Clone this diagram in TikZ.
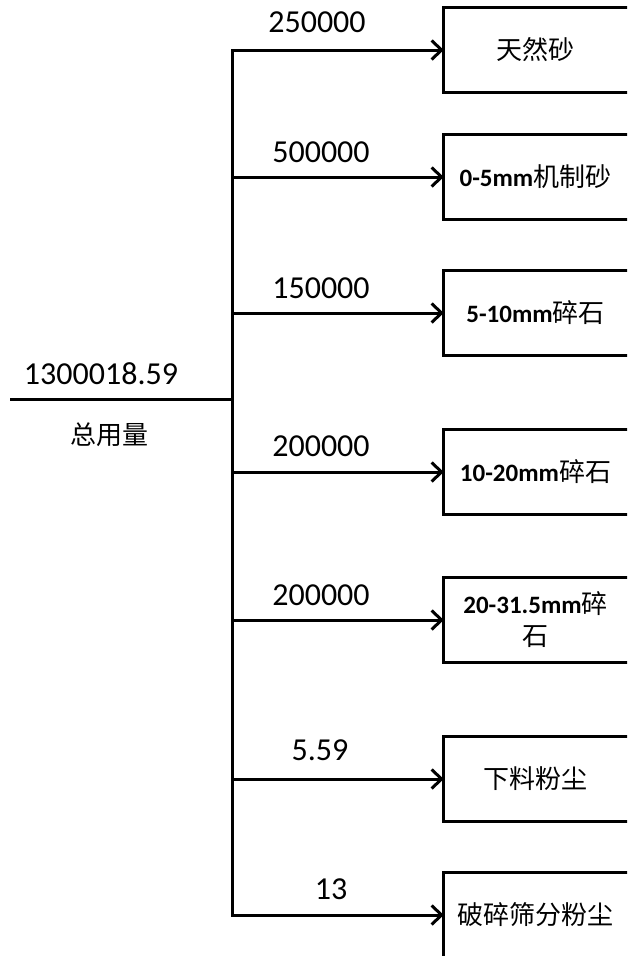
\documentclass[tikz,border=0pt]{standalone}
\usepackage{fontspec}
\setmainfont{Carlito}
\newfontfamily\cjk{Noto Sans CJK SC}
\usetikzlibrary{arrows.meta}
\begin{document}
\begin{tikzpicture}[x=1pt,y=-1pt,
  wire/.style={line width=3pt,line join=miter},
  arr/.style={wire,-{Straight Barb[length=10pt,width=19pt]}},
  boxtext/.style={minimum width=183pt,minimum height=84pt,inner sep=0pt,align=center,font=\fontsize{25pt}{32pt}\selectfont},
  lbl/.style={inner sep=0pt,font=\fontsize{32pt}{36pt}\selectfont},
  cjklbl/.style={inner sep=0pt,font=\fontsize{26pt}{30pt}\selectfont\cjk}]
\path[use as bounding box] (0,0) rectangle (627,956);
\clip (0,0) rectangle (627,956);
\newcommand{\zh}[1]{{\cjk\fontsize{26pt}{32pt}\selectfont #1}}
% boxes
\node[boxtext] (b1) at (535.5,50) {\zh{天然砂}};
\node[boxtext] (b2) at (535.5,177) {\textbf{0-5mm}\zh{机制砂}};
\node[boxtext] (b3) at (535.5,313) {\textbf{5-10mm}\zh{碎石}};
\node[boxtext] (b4) at (535.5,472) {\textbf{10-20mm}\zh{碎石}};
\node[boxtext] (b5) at (535.5,620) {\textbf{20-31.5mm}\zh{碎}\\\zh{石}};
\node[boxtext] (b6) at (535.5,779) {\zh{下料粉尘}};
\node[boxtext] (b7) at (535.5,915) {\zh{破碎筛分粉尘}};
\foreach \b in {b1,b2,b3,b4,b5,b6,b7}{
  \draw[wire] ([xshift=30pt]\b.north east) -- (\b.north west) -- (\b.south west) -- ([xshift=30pt]\b.south east);
}
% trunk
\coordinate (s) at (10,399);
\coordinate (m) at (232,399);
\coordinate (j1) at (232,50);
\coordinate (j2) at (232,177);
\coordinate (j3) at (232,313);
\coordinate (j4) at (232,472);
\coordinate (j5) at (232,620);
\coordinate (j6) at (232,779);
\coordinate (j7) at (232,915);
\draw[wire] (s) -- (m);
\draw[arr] (m) -- (j1) -- (b1.west);
\draw[arr] (m) -- (j7) -- (b7.west);
\foreach \i in {2,3,4,5,6}{\draw[arr] (j\i) -- (b\i.west);}
% labels
\node[lbl] (t0) at (101,374) {1300018.59};
\node[cjklbl] (t0b) at (109,435) {总用量};
\node[lbl] (t1) at (317,22) {250000};
\node[lbl] (t2) at (321,152) {500000};
\node[lbl] (t3) at (321,288) {150000};
\node[lbl] (t4) at (321,446) {200000};
\node[lbl] (t5) at (321,595) {200000};
\node[lbl] (t6) at (320,750) {5.59};
\node[lbl] (t7) at (331,889) {13};
\end{tikzpicture}
\end{document}
